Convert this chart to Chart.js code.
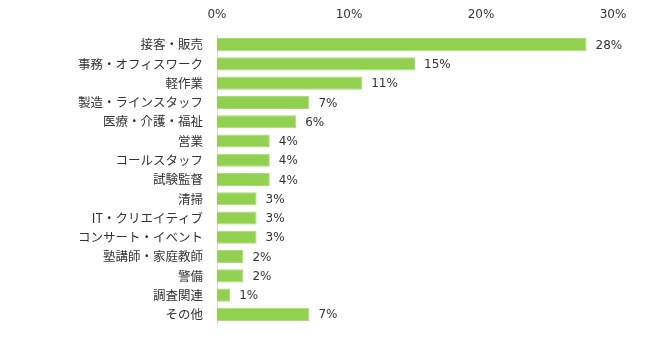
<!DOCTYPE html>
<html>
<head>
<meta charset="utf-8">
<script src="https://cdn.jsdelivr.net/npm/chart.js@4/dist/chart.umd.min.js"></script>
<style>
  html, body { margin: 0; padding: 0; background: #fff; }
  #wrap { width: 650px; height: 348px; position: relative; }
</style>
</head>
<body>
<div id="wrap"><canvas id="jobChart"></canvas></div>
<script>
// categories and shares (%)
const categories = [
  '接客・販売', '事務・オフィスワーク', '軽作業', '製造・ラインスタッフ',
  '医療・介護・福祉', '営業', 'コールスタッフ', '試験監督', '清掃',
  'IT・クリエイティブ', 'コンサート・イベント', '塾講師・家庭教師',
  '警備', '調査関連', 'その他'
];
const shares = [28, 15, 11, 7, 6, 4, 4, 4, 3, 3, 3, 2, 2, 1, 7];
const xTicks = [0, 10, 20, 30];

const numFont = "'DejaVu Sans', 'Noto Sans CJK JP', sans-serif";
const jpFont = "'Noto Sans CJK JP', 'DejaVu Sans', sans-serif";

// value labels at the end of each bar
const endLabels = {
  id: 'endLabels',
  afterDatasetsDraw(chart) {
    const ctx = chart.ctx;
    const meta = chart.getDatasetMeta(0);
    ctx.save();
    ctx.font = '12px ' + numFont;
    ctx.fillStyle = '#333';
    ctx.textAlign = 'left';
    ctx.textBaseline = 'middle';
    meta.data.forEach((bar, i) => {
      ctx.fillText(shares[i] + '%', bar.x + 9, bar.y + 1);
    });
    ctx.restore();
  }
};

new Chart(document.getElementById('jobChart').getContext('2d'), {
  type: 'bar',
  data: {
    labels: categories,
    datasets: [{
      data: shares,
      backgroundColor: '#92d050',
      borderColor: '#a9da7a',
      borderWidth: 1,
      barPercentage: 0.68,
      categoryPercentage: 1
    }]
  },
  options: {
    indexAxis: 'y',
    responsive: true,
    maintainAspectRatio: false,
    animation: false,
    layout: { padding: { left: 0, right: 37, top: 0, bottom: 24 } },
    plugins: { legend: { display: false }, tooltip: { enabled: false } },
    scales: {
      x: {
        position: 'top',
        min: 0,
        max: 30,
        afterFit(scale) { scale.height = 35; },
        afterBuildTicks(scale) { scale.ticks = xTicks.map(v => ({ value: v })); },
        grid: { display: false, drawTicks: false },
        border: { display: false },
        ticks: {
          padding: 13,
          color: '#333',
          font: { family: numFont, size: 12 },
          callback: v => v + '%'
        }
      },
      y: {
        afterFit(scale) { scale.width = 217; },
        grid: { display: false, drawTicks: false },
        border: { display: true, color: '#d9d9d9', width: 1 },
        ticks: {
          padding: 14,
          color: '#333',
          font: { family: jpFont, size: 12.5 }
        }
      }
    }
  },
  plugins: [endLabels]
});
</script>
</body>
</html>
